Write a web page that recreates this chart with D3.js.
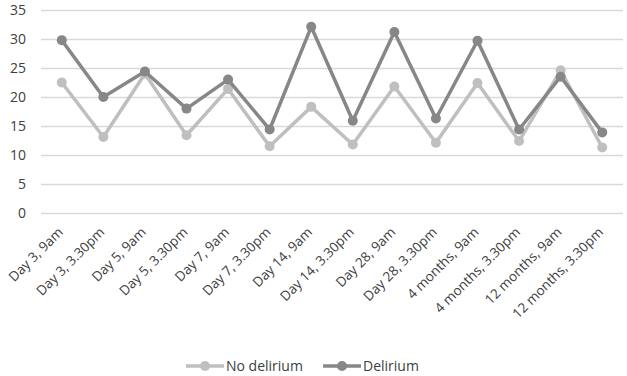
<!DOCTYPE html>
<html>
<head>
<meta charset="utf-8">
<script src="https://cdn.jsdelivr.net/npm/d3@7"></script>
<style>
  body { margin: 0; background: #fff; }
  svg { display: block; font-family: "Open Sans", sans-serif; }
</style>
</head>
<body>
<div id="chart"></div>
<script>
const categories = [
    "Day 3, 9am", "Day 3, 3.30pm", "Day 5, 9am", "Day 5, 3.30pm",
    "Day 7, 9am", "Day 7, 3.30pm", "Day 14, 9am", "Day 14, 3.30pm",
    "Day 28, 9am", "Day 28, 3.30pm", "4 months, 9am", "4 months, 3.30pm",
    "12 months, 9am", "12 months, 3.30pm"
];
const noDelirium = [22.5, 13.1, 24.0, 13.4, 21.4, 11.5, 18.3, 11.8, 21.8, 12.1, 22.4, 12.4, 24.6, 11.3];
const delirium = [29.8, 20.0, 24.4, 18.0, 23.0, 14.4, 32.1, 15.9, 31.2, 16.3, 29.7, 14.4, 23.5, 13.9];
const yTicks = [0, 5, 10, 15, 20, 25, 30, 35];

const series = [
    {name: "No delirium", values: noDelirium, color: "#bfbfbf"},
    {name: "Delirium", values: delirium, color: "#878787"}
];

const width = 627, height = 376;
const margin = {top: 10, right: 4, bottom: 163, left: 41};
const textColor = "#404040";

const svg = d3.select("#chart").append("svg")
    .attr("width", width)
    .attr("height", height);

const x = d3.scaleBand()
    .domain(categories)
    .range([margin.left, width - margin.right]);

const y = d3.scaleLinear()
    .domain([0, 35])
    .range([height - margin.bottom, margin.top]);

// gridlines
svg.append("g")
    .selectAll("line")
    .data(yTicks)
    .enter()
    .append("line")
    .attr("x1", margin.left)
    .attr("x2", width - margin.right)
    .attr("y1", d => y(d) + 0.5)
    .attr("y2", d => y(d) + 0.5)
    .attr("stroke", "#d9d9d9")
    .attr("stroke-width", 1.3);

// y labels
svg.append("g")
    .selectAll("text")
    .data(yTicks)
    .enter()
    .append("text")
    .attr("x", 26)
    .attr("y", d => y(d))
    .attr("dy", "0.35em")
    .attr("text-anchor", "end")
    .attr("fill", textColor)
    .attr("font-size", 14)
    .text(d => d);

// x labels
svg.append("g")
    .selectAll("text")
    .data(categories)
    .enter()
    .append("text")
    .attr("transform", d => `translate(${x(d) + x.bandwidth() / 2 + 2},${y(0) + 20}) rotate(-45)`)
    .attr("text-anchor", "end")
    .attr("fill", textColor)
    .attr("font-size", 13.5)
    .text(d => d);

const line = d3.line()
    .x((d, i) => x(categories[i]) + x.bandwidth() / 2)
    .y(d => y(d));

series.forEach(s => {
    const g = svg.append("g");
    g.append("path")
        .datum(s.values)
        .attr("fill", "none")
        .attr("stroke", s.color)
        .attr("stroke-width", 3.5)
        .attr("stroke-linejoin", "round")
        .attr("d", line);
    g.selectAll("circle")
        .data(s.values)
        .enter()
        .append("circle")
        .attr("cx", (d, i) => x(categories[i]) + x.bandwidth() / 2)
        .attr("cy", d => y(d))
        .attr("r", 5)
        .attr("fill", s.color);
});

// legend
const legendItems = [
    {name: "No delirium", color: "#bfbfbf", x: 186},
    {name: "Delirium", color: "#878787", x: 323}
];
const legend = svg.append("g");
legendItems.forEach(item => {
    legend.append("line")
        .attr("x1", item.x).attr("x2", item.x + 38)
        .attr("y1", 366).attr("y2", 366)
        .attr("stroke", item.color)
        .attr("stroke-width", 3.5);
    legend.append("circle")
        .attr("cx", item.x + 19).attr("cy", 366)
        .attr("r", 5)
        .attr("fill", item.color);
    legend.append("text")
        .attr("x", item.x + 40)
        .attr("y", 366)
        .attr("dy", "0.35em")
        .attr("fill", textColor)
        .attr("font-size", 14)
        .text(item.name);
});
</script>
</body>
</html>
